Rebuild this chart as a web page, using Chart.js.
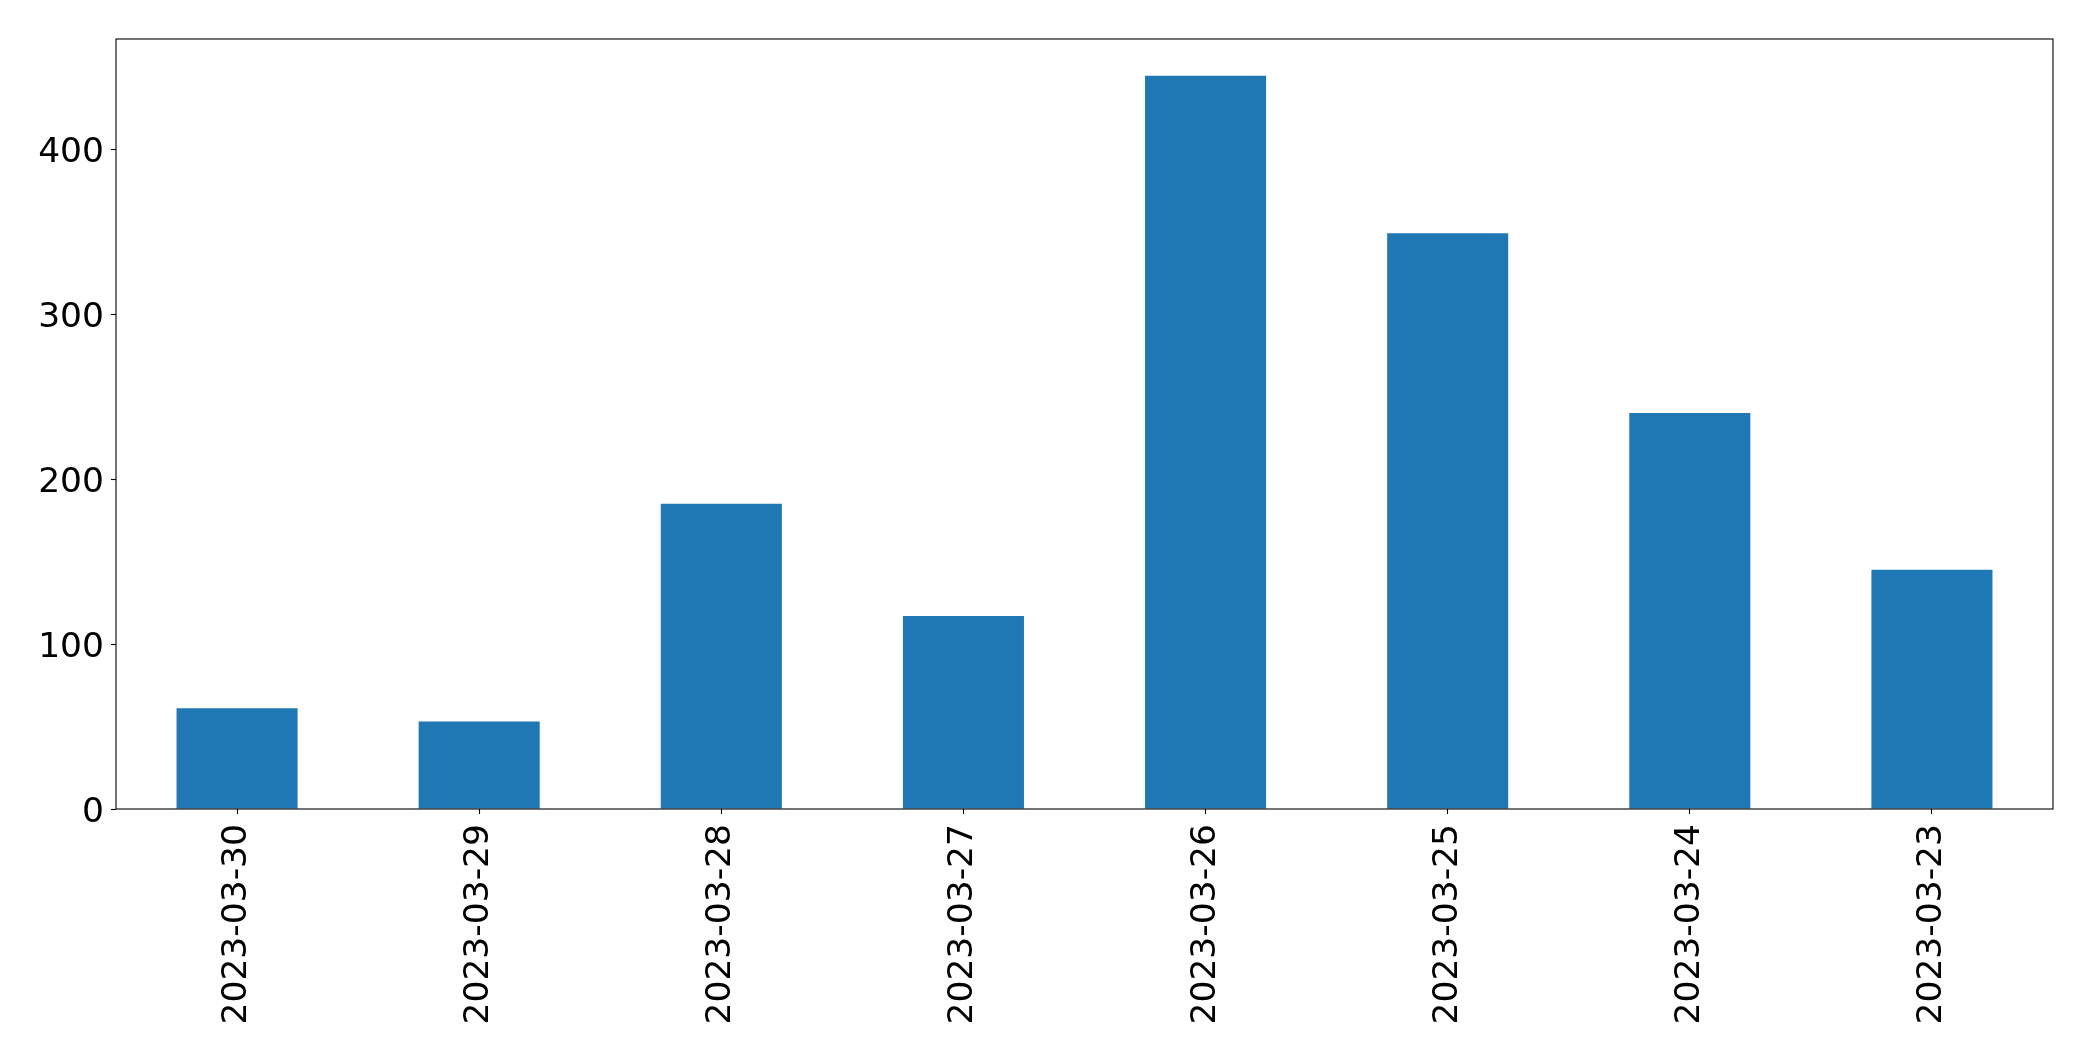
<!DOCTYPE html>
<html>
<head>
<meta charset="utf-8">
<title>Daily counts</title>
<script src="https://cdn.jsdelivr.net/npm/chart.js@4/dist/chart.umd.min.js"></script>
<style>
  html, body { margin: 0; padding: 0; background: #fff; }
  #wrap { width: 2093px; height: 1061px; position: relative; }
</style>
</head>
<body>
<div id="wrap"><canvas id="chart"></canvas></div>
<script>
  // Data
  const dates = ['2023-03-30', '2023-03-29', '2023-03-28', '2023-03-27',
                 '2023-03-26', '2023-03-25', '2023-03-24', '2023-03-23'];
  const counts = [61, 53, 185, 117, 444.4, 349, 240, 145];
  const yTicks = [0, 100, 200, 300, 400];

  const BAR = '#1f77b4';
  const FONT = { family: 'DejaVu Sans', size: 34.5 };

  // matplotlib style frame around the plot area
  const frame = {
    id: 'frame',
    afterDraw(chart) {
      const a = chart.chartArea;
      const ctx = chart.ctx;
      ctx.save();
      ctx.strokeStyle = '#000';
      ctx.lineWidth = 1.1;
      ctx.strokeRect(a.left, a.top, a.right - a.left, a.bottom - a.top);
      ctx.restore();
    }
  };

  new Chart(document.getElementById('chart'), {
    type: 'bar',
    data: {
      labels: dates,
      datasets: [{
        data: counts,
        backgroundColor: BAR,
        borderWidth: 0,
        barPercentage: 0.5,
        categoryPercentage: 1.0,
      }],
    },
    options: {
      responsive: true,
      maintainAspectRatio: false,
      animation: false,
      layout: { padding: { top: 39, right: 40, left: 0, bottom: 0 } },
      plugins: {
        legend: { display: false },
        tooltip: { enabled: false },
      },
      scales: {
        x: {
          offset: true,
          border: { display: false },
          grid: {
            offset: false,
            drawOnChartArea: false,
            tickLength: 5,
            tickColor: '#000',
            tickWidth: 1.1,
          },
          ticks: {
            color: '#000',
            font: FONT,
            minRotation: 90,
            maxRotation: 90,
            autoSkip: false,
            padding: 10,
          },
          afterFit(scale) { scale.height = 252; },
        },
        y: {
          min: 0,
          max: 466.7,
          border: { display: false },
          grid: {
            drawOnChartArea: false,
            tickLength: 5,
            tickColor: '#000',
            tickWidth: 1.1,
          },
          ticks: {
            color: '#000',
            font: FONT,
            padding: 7,
            labelOffset: 4,
            autoSkip: false,
          },
          afterBuildTicks(scale) {
            scale.ticks = yTicks.map(function (v) { return { value: v }; });
          },
          afterFit(scale) { scale.width = 116; },
        },
      },
    },
    plugins: [frame],
  });
</script>
</body>
</html>
